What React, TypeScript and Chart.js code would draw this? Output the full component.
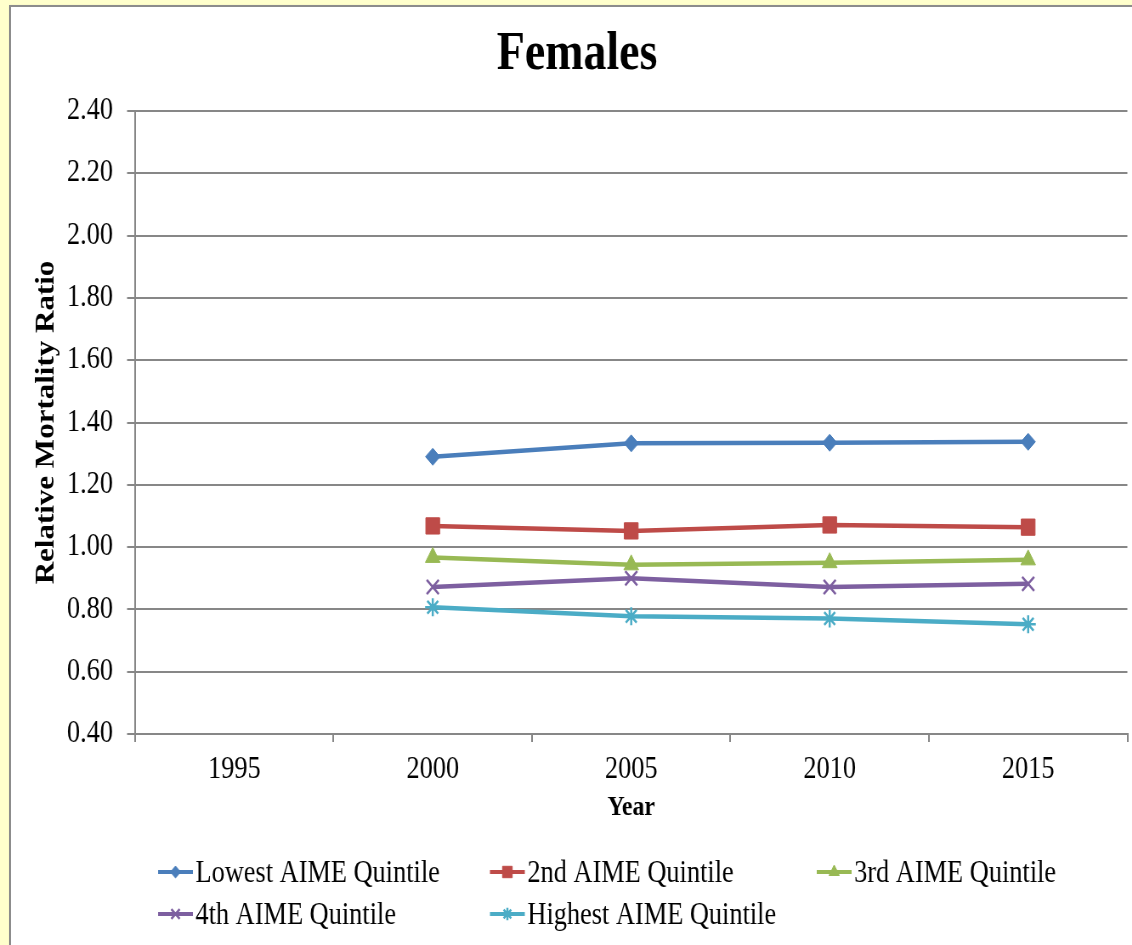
import React, { useEffect, useRef } from 'react';
import { Chart, registerables } from 'chart.js';
import { drawPoint } from 'chart.js/helpers';

Chart.register(...registerables);

// ---- data ----
const years: string[] = ['1995', '2000', '2005', '2010', '2015'];
const lowestQ: (number | null)[] = [null, 1.29, 1.333, 1.335, 1.338];
const secondQ: (number | null)[] = [null, 1.068, 1.052, 1.071, 1.064];
const thirdQ: (number | null)[] = [null, 0.967, 0.943, 0.95, 0.959];
const fourthQ: (number | null)[] = [null, 0.872, 0.9, 0.872, 0.882];
const highestQ: (number | null)[] = [null, 0.807, 0.778, 0.771, 0.752];
const seriesNames: string[] = [
  'Lowest AIME Quintile',
  '2nd AIME Quintile',
  '3rd AIME Quintile',
  '4th AIME Quintile',
  'Highest AIME Quintile',
];
const yMin = 0.4;
const yMax = 2.4;
const yStep = 0.2;
const chartTitle = 'Females';
const xTitle = 'Year';
const yTitle = 'Relative Mortality Ratio';

// ---- styles ----
const FONT = '"Liberation Serif", "Times New Roman", serif';
const GRID = '#878787';
const SQUEEZE = 1132 / 1332; // the reference is squeezed horizontally
const LOGICAL_W = 1339;
const LOGICAL_H = 945;

const seriesStyles = [
  { color: '#4A7EBB', pointStyle: 'rectRot', radius: 8.5, borderWidth: 1 },
  { color: '#BE4B48', pointStyle: 'rect', radius: 11.5, borderWidth: 1 },
  { color: '#98B954', pointStyle: 'triangle', radius: 10, borderWidth: 1 },
  { color: '#7D5FA0', pointStyle: 'crossRot', radius: 10, borderWidth: 2.5 },
  { color: '#4BACC6', pointStyle: 'star', radius: 9, borderWidth: 2.5 },
];

const legendSlots = [
  { x: 186, y: 872 },
  { x: 576.5, y: 872 },
  { x: 961, y: 872 },
  { x: 186, y: 914 },
  { x: 576.5, y: 914 },
];

const overlayPlugin = {
  id: 'overlay',
  afterDraw(chart: any) {
    const ctx: CanvasRenderingContext2D = chart.ctx;
    ctx.save();
    // title
    ctx.fillStyle = '#000';
    ctx.font = `bold 54px ${FONT}`;
    ctx.textAlign = 'center';
    ctx.textBaseline = 'alphabetic';
    ctx.fillText(chartTitle, 679, 69);
    // legend
    chart.data.datasets.forEach((ds: any, i: number) => {
      const slot = legendSlots[i];
      if (!slot) return;
      const lineLen = 41;
      ctx.strokeStyle = ds.borderColor;
      ctx.lineWidth = 4;
      ctx.beginPath();
      ctx.moveTo(slot.x, slot.y);
      ctx.lineTo(slot.x + lineLen, slot.y);
      ctx.stroke();
      ctx.fillStyle = ds.pointBackgroundColor;
      ctx.strokeStyle = ds.pointBorderColor;
      ctx.lineWidth = ds.pointBorderWidth;
      drawPoint(
        ctx,
        { pointStyle: ds.pointStyle, radius: ds.pointRadius * 0.7, borderWidth: ds.pointBorderWidth, rotation: 0 } as any,
        slot.x + lineLen / 2,
        slot.y
      );
      ctx.fillStyle = '#000';
      ctx.font = `31px ${FONT}`;
      ctx.textAlign = 'left';
      ctx.textBaseline = 'alphabetic';
      ctx.fillText(ds.label, slot.x + lineLen + 3, slot.y + 10);
    });
    ctx.restore();
  },
};

export default function App() {
  const canvasRef = useRef<HTMLCanvasElement | null>(null);

  useEffect(() => {
    const canvas = canvasRef.current;
    if (!canvas) return;
    const seriesValues = [lowestQ, secondQ, thirdQ, fourthQ, highestQ];
    const datasets = seriesValues.map((vals, i) => {
      const st = seriesStyles[i];
      return {
        label: seriesNames[i],
        data: vals,
        borderColor: st.color,
        backgroundColor: st.color,
        borderWidth: 4.5,
        tension: 0,
        pointStyle: st.pointStyle,
        pointRadius: st.radius,
        pointHoverRadius: st.radius,
        pointBackgroundColor: st.color,
        pointBorderColor: st.color,
        pointBorderWidth: st.borderWidth,
      };
    });

    const chart = new Chart(canvas, {
      type: 'line',
      data: { labels: years, datasets: datasets as any },
      options: {
        responsive: false,
        animation: false,
        devicePixelRatio: 1,
        layout: { padding: { top: 111, left: 0, right: 5.8, bottom: 0 } },
        plugins: {
          legend: { display: false },
          title: { display: false },
          tooltip: { enabled: false },
        },
        scales: {
          x: {
            type: 'category',
            offset: true,
            grid: {
              display: true,
              drawOnChartArea: false,
              drawTicks: true,
              tickLength: 8,
              offset: true,
              color: GRID,
              lineWidth: 2,
            },
            border: { display: true, color: GRID, width: 2 },
            ticks: {
              color: '#000',
              font: { family: FONT, size: 31 },
              padding: 9.4,
              maxRotation: 0,
              autoSkip: false,
            },
            title: {
              display: true,
              text: xTitle,
              color: '#000',
              font: { family: FONT, size: 28, weight: 'bold' },
              padding: { top: 0, bottom: 120 },
            },
            afterFit: (s: any) => {
              s.height = 211;
              s.paddingLeft = 0;
              s.paddingRight = 0;
            },
          },
          y: {
            min: yMin,
            max: yMax,
            grid: {
              color: GRID,
              lineWidth: 2,
              drawTicks: true,
              tickLength: 9.4,
            },
            border: { display: true, color: GRID, width: 2 },
            ticks: {
              stepSize: yStep,
              color: '#000',
              font: { family: FONT, size: 31 },
              padding: 16.5,
              callback: (v: any) => Number(v).toFixed(2),
            },
            title: {
              display: true,
              text: yTitle,
              color: '#000',
              font: { family: FONT, size: 31, weight: 'bold' },
              padding: { top: 36.7, bottom: 0 },
            },
            afterFit: (s: any) => {
              s.width = 158.9;
            },
          },
        },
      } as any,
      plugins: [overlayPlugin],
    });

    return () => {
      chart.destroy();
    };
  }, []);

  return (
    <div
      style={{
        position: 'fixed',
        left: 0,
        top: 0,
        width: 1132,
        height: 945,
        overflow: 'hidden',
        background: '#FFFFCC',
      }}
    >
      <div
        style={{
          position: 'absolute',
          left: 9,
          top: 5,
          width: 1200,
          height: 1000,
          background: '#FFFFFF',
          borderTop: '2px solid #8C8C8C',
          borderLeft: '2px solid #8C8C8C',
          boxShadow: '1px 1px 2px rgba(0,0,0,0.25)',
        }}
      />
      <canvas
        ref={canvasRef}
        width={LOGICAL_W}
        height={LOGICAL_H}
        style={{
          position: 'absolute',
          left: 0,
          top: 0,
          width: `${LOGICAL_W * SQUEEZE}px`,
          height: `${LOGICAL_H}px`,
        }}
      />
    </div>
  );
}
